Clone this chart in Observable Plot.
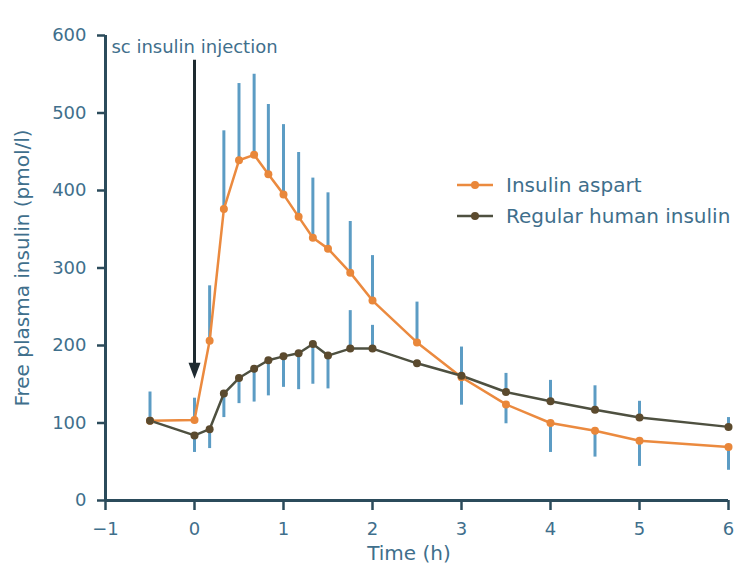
<!DOCTYPE html>
<html>
<head>
<meta charset="utf-8">
<script src="https://cdn.jsdelivr.net/npm/d3@7"></script>
<script src="https://cdn.jsdelivr.net/npm/@observablehq/plot@0.6"></script>
<style>
  body { margin: 0; background: #ffffff; }
  #wrap { position: relative; width: 739px; height: 569px; font-family: "DejaVu Sans", sans-serif; }
  #legend { position: absolute; left: 456px; top: 169px; }
  .row { display: flex; align-items: center; height: 31px; }
  .row span { margin-left: 12px; font-size: 20px; color: #3f6f8c; white-space: nowrap; }
</style>
</head>
<body>
<div id="wrap"><div id="legend"></div></div>
<script>
// ---- data ----
const time = [-0.5, 0, 0.17, 0.33, 0.5, 0.67, 0.83, 1, 1.17, 1.33, 1.5, 1.75, 2, 2.5, 3, 3.5, 4, 4.5, 5, 6];
const aspart = [103, 104, 206, 376, 439, 446, 421, 395, 366, 339, 325, 294, 258, 204, 159, 124, 100, 90, 77, 69];
const aspartBarEnd = [140, 132, 277, 477, 538, 550, 511, 485, 449, 416, 397, 360, 316, 256, 198, 99, 62, 56, 44, 39];
const human = [103, 84, 92, 138, 158, 170, 181, 186, 190, 202, 187, 196, 196, 177, 161, 140, 128, 117, 107, 95];
const humanBarEnd = [null, 62, 67, 107, 125, 127, 135, 146, 143, 150, 144, 245, 226, null, 123, 164, 155, 148, 128, 107];
const seriesNames = ["Insulin aspart", "Regular human insulin"];
const xTicks = [-1, 0, 1, 2, 3, 4, 5, 6];
const yTicks = [0, 100, 200, 300, 400, 500, 600];
const xLabel = "Time (h)";
const yLabel = "Free plasma insulin (pmol/l)";
const injection = [{time: 0, top: 568, tip: 157, text: "sc insulin injection"}];

// ---- styles ----
const colors = {"Insulin aspart": "#eb8a3f", "Regular human insulin": "#4e5040"};
const dotColors = {"Insulin aspart": "#e9873a", "Regular human insulin": "#5b4a2e"};
const axisColor = "#2b4b5b";
const textColor = "#3f6f8c";
const barColor = "#5c9cc4";

const rows = [];
time.forEach((t, i) => {
  rows.push({series: seriesNames[0], time: t, value: aspart[i], end: aspartBarEnd[i]});
  rows.push({series: seriesNames[1], time: t, value: human[i], end: humanBarEnd[i]});
});
const bars = rows.filter(d => d.end != null);

const arrowHead = {
  draw(context) {
    context.moveTo(-6, -16);
    context.lineTo(6, -16);
    context.lineTo(0, 0);
    context.closePath();
  }
};

const chart = Plot.plot({
  width: 739,
  height: 569,
  marginLeft: 105,
  marginRight: 11,
  marginTop: 35,
  marginBottom: 69,
  x: {domain: [-1, 6]},
  y: {domain: [0, 600]},
  style: {fontFamily: "DejaVu Sans, sans-serif", fontSize: "18px", color: textColor, background: "#ffffff"},
  marks: [
    Plot.axisY({ticks: yTicks, tickFormat: d3.format("d"), tickSize: 8, tickPadding: 11, label: null, stroke: axisColor, strokeWidth: 2.5, fill: textColor, fontSize: 18}),
    Plot.axisX({ticks: xTicks, tickFormat: d3.format("d"), tickSize: 10, tickPadding: 12, label: null, stroke: axisColor, strokeWidth: 2.5, fill: textColor, fontSize: 18}),
    Plot.ruleX([-1], {stroke: axisColor, strokeWidth: 3}),
    Plot.ruleY([0], {stroke: axisColor, strokeWidth: 3}),
    Plot.text([yLabel], {frameAnchor: "left", dx: -83, rotate: -90, textAnchor: "middle", lineAnchor: "middle", text: d => d, fill: textColor, fontSize: 20}),
    Plot.text([xLabel], {frameAnchor: "bottom", dy: 53, dx: -8, textAnchor: "middle", lineAnchor: "middle", text: d => d, fill: textColor, fontSize: 20}),
    Plot.ruleX(bars, {x: "time", y1: "value", y2: "end", stroke: barColor, strokeWidth: 3}),
    Plot.line(rows, {x: "time", y: "value", z: "series", stroke: d => colors[d.series], strokeWidth: 2.5}),
    Plot.dot(rows, {x: "time", y: "value", r: 4, fill: d => dotColors[d.series], stroke: "none"}),
    Plot.ruleX(injection, {x: "time", y1: "top", y2: "tip", insetBottom: 12, stroke: "#1e2a30", strokeWidth: 3}),
    Plot.dot(injection, {x: "time", y: "tip", symbol: arrowHead, fill: "#1e2a30", stroke: "none", r: 5}),
    Plot.text(injection, {x: "time", frameAnchor: "top", dy: 12, lineAnchor: "middle", textAnchor: "middle", text: "text", fill: textColor, fontSize: 18})
  ]
});
const wrap = document.getElementById("wrap");
wrap.insertBefore(chart, wrap.firstChild);

// legend
const legend = document.getElementById("legend");
seriesNames.forEach(name => {
  const row = document.createElement("div");
  row.className = "row";
  row.innerHTML = `<svg width="38" height="12"><line x1="1" x2="37" y1="6" y2="6" stroke="${colors[name]}" stroke-width="2.5"/><circle cx="19" cy="6" r="4" fill="${dotColors[name]}"/></svg><span>${name}</span>`;
  legend.appendChild(row);
});
</script>
</body>
</html>
